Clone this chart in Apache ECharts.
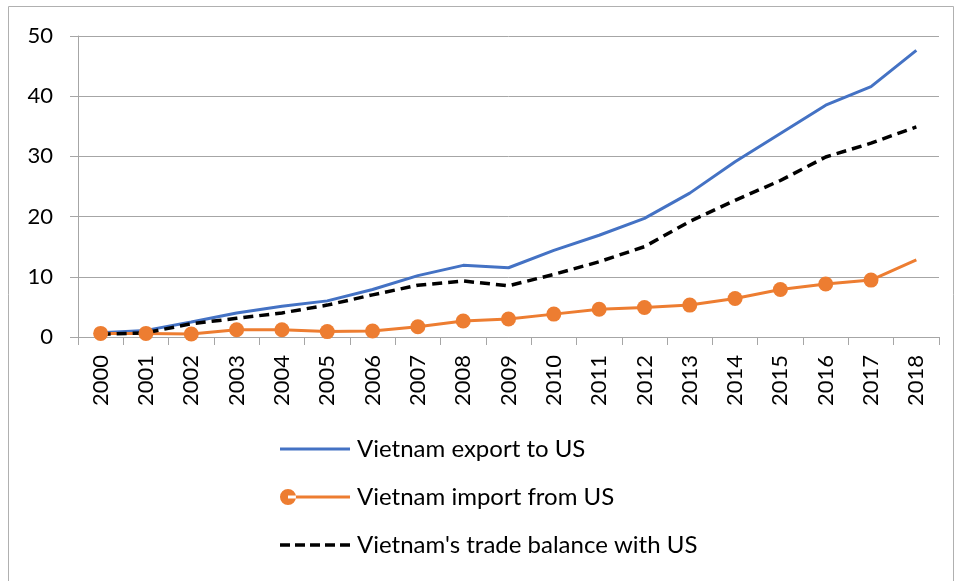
<!DOCTYPE html>
<html>
<head>
<meta charset="utf-8">
<script src="https://cdn.jsdelivr.net/npm/echarts@6/dist/echarts.min.js"></script>
<style>
  html, body { margin: 0; padding: 0; background: #fff; }
  #main { width: 956px; height: 581px; }
</style>
</head>
<body>
<div id="main"></div>
<script>
const years = ['2000', '2001', '2002', '2003', '2004', '2005', '2006', '2007', '2008', '2009',
  '2010', '2011', '2012', '2013', '2014', '2015', '2016', '2017', '2018']
const exportToUS = [0.7, 1.1, 2.5, 4.0, 5.1, 6.0, 7.9, 10.2, 11.9, 11.5, 14.4, 16.9, 19.7, 23.9, 29.1, 33.8, 38.5, 41.6, 47.6]
const importFromUS = [0.6, 0.6, 0.5, 1.2, 1.2, 0.9, 1.0, 1.7, 2.65, 3.0, 3.8, 4.6, 4.9, 5.3, 6.4, 7.9, 8.8, 9.45, 12.8]
const tradeBalance = [0.45, 0.7, 2.2, 3.1, 4.0, 5.3, 7.0, 8.6, 9.3, 8.5, 10.4, 12.5, 15.0, 19.2, 22.7, 26.0, 29.9, 32.2, 34.9]
const yTicks = [0, 10, 20, 30, 40, 50]

const font = 'Lato'
const myChart = echarts.init(document.getElementById('main'))

// last import point has no marker in the original
const importData = importFromUS.map((v, i) => i === importFromUS.length - 1 ? { value: v, symbol: 'none' } : v)

// legend icons, all 70x16 boxes (the zero-area lines only fix the box size)
const box = 'M0,0 L70,0 Z M0,16 L70,16 Z '
const iconLine = 'path://' + box + 'M0,6.5 L70,6.5 L70,9.5 L0,9.5 Z'
const iconDot = 'path://' + box + 'M0,8 A8,8 0 1,0 16,8 A8,8 0 1,0 0,8 Z M8,6.5 L70,6.5 L70,9.5 L8,9.5 Z'
let dashes = ''
for (let x = 0; x < 70; x += 15) dashes += `M${x},6.2 L${x + 10},6.2 L${x + 10},9.8 L${x},9.8 Z `
const iconDash = 'path://' + box + dashes

const option = {
  animation: false,
  graphic: [{
    type: 'rect',
    shape: { x: 8.5, y: 6.5, width: 945, height: 600 },
    style: { fill: 'none', stroke: '#b0b0b0', lineWidth: 1 },
    silent: true
  }],
  grid: { left: 78, right: 17, top: 36, bottom: 244, containLabel: false },
  legend: {
    orient: 'vertical',
    left: 275,
    top: 432,
    itemWidth: 70,
    itemHeight: 16,
    itemGap: 24,
    itemStyle: { borderWidth: 0 },
    textStyle: { fontFamily: font, fontSize: 24, color: '#000', padding: [0, 0, 0, 2] },
    data: [
      { name: 'Vietnam export to US', icon: iconLine },
      { name: 'Vietnam import from US', icon: iconDot },
      { name: "Vietnam's trade balance with US", icon: iconDash }
    ]
  },
  xAxis: {
    type: 'category',
    data: years,
    boundaryGap: true,
    axisLine: { lineStyle: { color: '#a6a6a6', width: 1 } },
    axisTick: { show: true, length: 8, lineStyle: { color: '#a6a6a6' } },
    axisLabel: { rotate: 90, margin: 18, fontFamily: font, fontSize: 22, color: '#000' }
  },
  yAxis: {
    type: 'value',
    min: yTicks[0],
    max: yTicks[yTicks.length - 1],
    interval: 10,
    axisLine: { show: true, lineStyle: { color: '#a6a6a6', width: 1 } },
    axisTick: { show: true, length: 8, lineStyle: { color: '#a6a6a6' } },
    splitLine: { lineStyle: { color: '#a6a6a6', width: 1 } },
    axisLabel: { margin: 25, fontFamily: font, fontSize: 22, color: '#000' }
  },
  series: [
    {
      name: 'Vietnam export to US',
      type: 'line',
      data: exportToUS,
      symbol: 'none',
      color: '#4472C4',
      lineStyle: { color: '#4472C4', width: 3 }
    },
    {
      name: 'Vietnam import from US',
      type: 'line',
      data: importData,
      symbol: 'circle',
      symbolSize: 15,
      color: '#ED7D31',
      itemStyle: { color: '#ED7D31' },
      lineStyle: { color: '#ED7D31', width: 3 }
    },
    {
      name: "Vietnam's trade balance with US",
      type: 'line',
      data: tradeBalance,
      symbol: 'none',
      color: '#000',
      lineStyle: { color: '#000', width: 3.5, type: [10, 6] }
    }
  ]
}
myChart.setOption(option)
window.onresize = () => {
  myChart.resize()
}
</script>
</body>
</html>
